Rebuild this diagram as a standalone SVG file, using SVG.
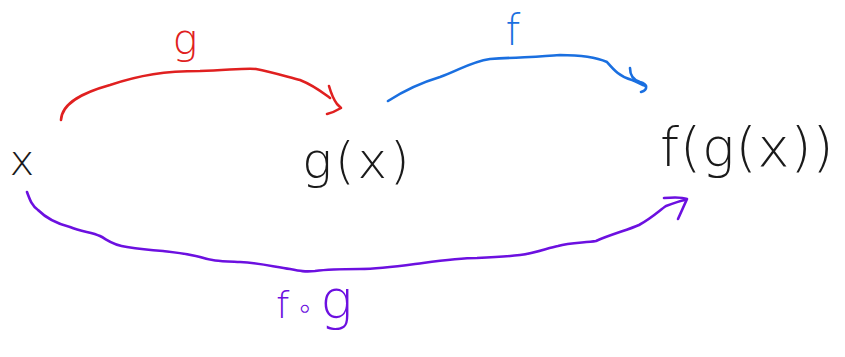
<svg xmlns="http://www.w3.org/2000/svg" width="845" height="357" viewBox="0 0 845 357">
<style>
.c{fill:none;stroke-width:2.6;stroke-linecap:round;stroke-linejoin:round}
.t{font-family:"DejaVu Sans","Liberation Sans",sans-serif;font-weight:300}
.k{fill:#1a1a1a}
</style>
<rect width="845" height="357" fill="#ffffff"/>
<g id="connectors">
<g id="edge-g" stroke="#e02020">
<path class="c" d="M61,120 C62,102 85,92 110,85 C140,75 165,71 200,71 C230,70 245,68 256,69 C272,72 288,77 300,80 C315,86 323,93 330,98"/>
<path class="c" d="M329,86 C331,93 334,100 337,104 L341,108 C336,111 331,113 327,114"/>
<text class="t" x="185" y="54" font-size="42" fill="#e02020" text-anchor="middle" stroke="none">g</text>
</g>
<g id="edge-f" stroke="#1a6fe0">
<path class="c" d="M388,101 C405,90 420,83 440,77 C460,70 470,62 490,59 C520,57 540,57 560,55 C580,55 598,58 607,62 C614,70 620,77 632,80 C638,82 641,85 646,86"/>
<path class="c" d="M630,68 C630,75 633,80 640,82 C648,84 648,90 641,92"/>
<text class="t" x="513" y="45" font-size="42" fill="#1a6fe0" text-anchor="middle" stroke="none">f</text>
</g>
<g id="edge-fog" stroke="#6c10e0">
<path class="c" d="M27,192 C30,200 32,206 38,210 C48,220 58,224 70,227 C82,232 92,232 100,236 C108,240 112,245 127,247 C140,249 150,250 163,251 C180,253 190,254 200,257 C212,261 220,261 240,262 C260,263 275,267 290,269 C300,271 305,272 315,271 C330,269 340,269 360,269 C380,269 400,266 423,263 C445,260 460,258 477,258 C500,257 512,256 520,255 C535,253 548,248 558,246 C570,242 585,243 596,241 C612,234 628,230 639,225 C652,218 660,210 666,206 C674,203 680,201 685,200"/>
<path class="c" d="M664,198 C675,197 682,197 687,199 L678,219"/>
<text class="t" x="276" y="318" fill="#6c10e0" stroke="none"><tspan font-size="38">f</tspan><tspan font-size="30" dx="6">∘</tspan><tspan font-size="54" dx="6">g</tspan></text>
</g>
</g>
<g id="node-x">
<text class="t k" x="22" y="175" font-size="42" text-anchor="middle">x</text>
</g>
<g id="node-gx">
<text class="t k" x="302" y="178" font-size="50" letter-spacing="3">g(x)</text>
</g>
<g id="node-fgx">
<text class="t k" x="660" y="166" font-size="54" letter-spacing="1">f(g(x))</text>
</g>
</svg>
